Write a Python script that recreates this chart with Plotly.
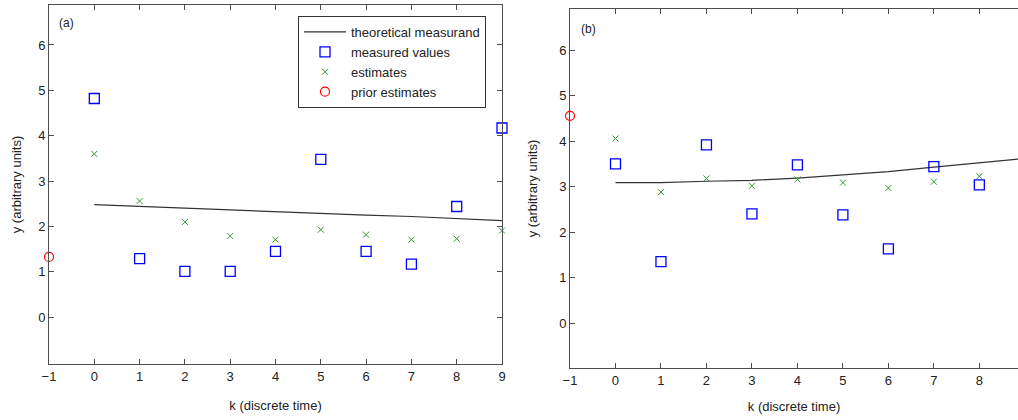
import plotly.graph_objects as go

# ---------------- data ----------------
k_a = [0, 1, 2, 3, 4, 5, 6, 7, 8, 9]
theory_a = [2.48, 2.44, 2.40, 2.36, 2.33, 2.29, 2.25, 2.22, 2.17, 2.13]
measured_a = [4.82, 1.29, 1.01, 1.01, 1.45, 3.48, 1.45, 1.17, 2.44, 4.17]
estimates_a = [3.60, 2.56, 2.10, 1.79, 1.71, 1.93, 1.82, 1.71, 1.73, 1.91]
prior_k_a = [-1]
prior_a = [1.33]

k_b = [0, 1, 2, 3, 4, 5, 6, 7, 8]
k_b_line = [0, 1, 2, 3, 4, 5, 6, 7, 8, 9]
theory_b = [3.09, 3.09, 3.12, 3.14, 3.19, 3.26, 3.33, 3.43, 3.52, 3.62]
measured_b = [3.50, 1.35, 3.92, 2.40, 3.48, 2.38, 1.63, 3.44, 3.04]
estimates_b = [4.06, 2.88, 3.18, 3.02, 3.16, 3.09, 2.97, 3.11, 3.23]
prior_k_b = [-1]
prior_b = [4.56]

x_ticks_a = [-1, 0, 1, 2, 3, 4, 5, 6, 7, 8, 9]
x_ticks_b = [-1, 0, 1, 2, 3, 4, 5, 6, 7, 8]
y_ticks = [0, 1, 2, 3, 4, 5, 6]

W, H = 1018, 420
FONT = "Liberation Sans, Arial, sans-serif"
AX = "#4d4d4d"
LINE = "#333333"
BLUE = "#0000ff"
GREEN = "#2e9a2e"
RED = "#ff0000"

fig = go.Figure()


def add_panel(k, kl, theory, meas, est, pk, pv, xa, ya, legend):
    fig.add_trace(go.Scatter(x=kl, y=theory, mode="lines", name="theoretical measurand",
                             line=dict(color=LINE, width=1.2), xaxis=xa, yaxis=ya, showlegend=legend))
    fig.add_trace(go.Scatter(x=k, y=meas, mode="markers", name="measured values",
                             marker=dict(symbol="square-open", size=10, color=BLUE, line=dict(width=1.3)),
                             xaxis=xa, yaxis=ya, showlegend=legend, cliponaxis=False))
    fig.add_trace(go.Scatter(x=k, y=est, mode="markers", name="estimates",
                             marker=dict(symbol="x-thin-open", size=6, color=GREEN,
                                         line=dict(width=1, color=GREEN)),
                             xaxis=xa, yaxis=ya, showlegend=legend, cliponaxis=False))
    fig.add_trace(go.Scatter(x=pk, y=pv, mode="markers", name="prior estimates",
                             marker=dict(symbol="circle-open", size=9, color=RED, line=dict(width=1.2)),
                             xaxis=xa, yaxis=ya, showlegend=legend, cliponaxis=False))


add_panel(k_a, k_a, theory_a, measured_a, estimates_a, prior_k_a, prior_a, "x", "y", True)
add_panel(k_b, k_b_line, theory_b, measured_b, estimates_b, prior_k_b, prior_b, "x2", "y2", False)

common_axis = dict(showgrid=False, zeroline=False, showline=True, linecolor=AX, linewidth=1,
                   ticks="inside", ticklen=5, tickcolor=AX, tickwidth=1,
                   tickfont=dict(family=FONT, size=13, color="#222"), automargin=False)

fig.update_layout(
    width=W, height=H,
    margin=dict(l=0, r=0, t=0, b=0),
    paper_bgcolor="white", plot_bgcolor="white",
    font=dict(family=FONT, size=13, color="#222"),
    xaxis=dict(domain=[49 / W, 502 / W], range=[-1, 9], tickvals=x_ticks_a, mirror="allticks",
               anchor="y", title=dict(text="k (discrete time)", standoff=18,
                                      font=dict(family=FONT, size=13)), **common_axis),
    yaxis=dict(domain=[(H - 364) / H, (H - 5) / H], range=[-1.03, 6.88], tickvals=y_ticks,
               mirror="allticks", anchor="x",
               title=dict(text="y (arbitrary units)", standoff=13, font=dict(family=FONT, size=13)),
               **common_axis),
    xaxis2=dict(domain=[570 / W, 1.0], range=[-1, 8.85], tickvals=x_ticks_b, mirror="allticks",
                anchor="y2", title=dict(text="k (discrete time)", standoff=15,
                                        font=dict(family=FONT, size=13)), **common_axis),
    yaxis2=dict(domain=[(H - 368) / H, (H - 9) / H], range=[-0.99, 6.91], tickvals=y_ticks,
                mirror=False, anchor="x2",
                title=dict(text="y (arbitrary units)", standoff=18, font=dict(family=FONT, size=13)),
                **common_axis),
    legend=dict(x=298 / W, y=(H - 16) / H, xanchor="left", yanchor="top",
                bgcolor="white", bordercolor="#333", borderwidth=1,
                font=dict(family=FONT, size=13, color="#222"),
                itemwidth=42, tracegroupgap=0, entrywidth=147, entrywidthmode="pixels"),
    showlegend=True,
)

fig.add_annotation(text="(a)", x=57 / W, y=(H - 23) / H, xref="paper", yref="paper",
                   xanchor="left", yanchor="middle", showarrow=False, font=dict(family=FONT, size=12))
fig.add_annotation(text="(b)", x=579 / W, y=(H - 29) / H, xref="paper", yref="paper",
                   xanchor="left", yanchor="middle", showarrow=False, font=dict(family=FONT, size=12))

fig.write_html("out.html", config={"displayModeBar": False},
               post_script="document.body.style.margin='0';document.body.style.overflow='hidden';")
